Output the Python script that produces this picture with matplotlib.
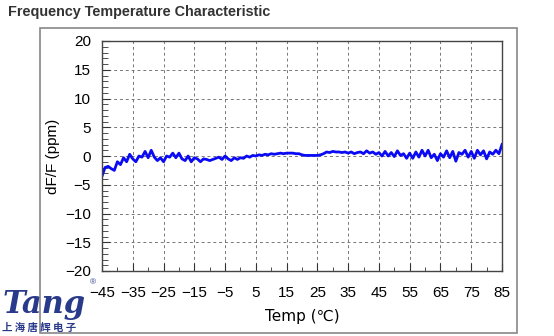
import matplotlib
matplotlib.use("Agg")
import matplotlib.pyplot as plt
from matplotlib.patches import Rectangle

temps = list(range(-45, 86))
dfdf = [-3.5, -2.0, -1.8, -2.2, -2.5, -1.0, -1.5, -0.3, -1.0, 0.3,
        -0.5, -1.0, 0.0, -0.2, 0.8, -0.3, 1.0, -0.2, -0.8, -0.3,
        -1.0, 0.0, -0.2, 0.5, -0.3, 0.5, -0.5, -0.8, 0.0, -1.0,
        -0.3, -0.5, -1.0, -0.5, -0.6, -0.8, -0.6, -0.4, -0.2, -0.6,
        0.0, -0.5, -0.8, -0.3, -0.6, -0.3, -0.4, 0.0, -0.2, 0.1,
        0.0, 0.2, 0.1, 0.3, 0.2, 0.4, 0.3, 0.4, 0.5, 0.4,
        0.5, 0.5, 0.5, 0.4, 0.4, 0.2, 0.1, 0.1, 0.1, 0.1,
        0.1, 0.2, 0.4, 0.7, 0.6, 0.8, 0.7, 0.7, 0.6, 0.7,
        0.5, 0.7, 0.4, 0.6, 0.7, 0.4, 0.9, 0.5, 0.7, 0.3,
        0.6, 0.0, 0.8, 0.0, 0.6, -0.1, 0.9, 0.1, 0.4, -0.4,
        0.5, -0.4, 0.7, -0.2, 1.0, 0.0, 1.0, -0.3, 0.3, -0.8,
        0.4, -0.2, 0.9, -0.3, 0.8, -0.9, 0.6, 0.3, 1.0, -0.2,
        0.8, -0.4, 1.0, 0.2, 0.9, -0.5, 0.7, 0.3, 1.0, 0.4,
        2.0]

x_ticks = list(range(-45, 86, 10))
y_ticks = list(range(-20, 21, 5))

W, H = 554, 336
plt.rcParams["font.family"] = ["Liberation Sans", "DejaVu Sans"]
fig = plt.figure(figsize=(W / 100, H / 100), dpi=100)
fig.patch.set_facecolor("white")

# outer frame
fig.patches.append(Rectangle((40 / W, 1 - 333 / H), (517 - 40) / W, (333 - 28) / H,
                             transform=fig.transFigure, fill=False,
                             edgecolor="#888888", linewidth=1.2))

ax = fig.add_axes([102 / W, 1 - 271 / H, 400 / W, 230 / H])
ax.plot(temps, dfdf, color="#0a0af5", linewidth=2.0)
ax.set_xlim(-45, 85)
ax.set_ylim(-20, 20)
ax.set_xticks(x_ticks)
ax.set_yticks(y_ticks)
ax.set_xticks(range(-40, 86, 10), minor=True)
ax.set_yticks(range(-20, 21, 1), minor=True)
ax.tick_params(axis="x", which="major", direction="in", labelsize=11,
               color="#333333", length=6, width=0.8, pad=11)
ax.tick_params(axis="y", which="major", direction="in", labelsize=11,
               color="#333333", length=6, width=0.8, pad=8)
ax.tick_params(axis="x", which="minor", direction="in", length=3, color="#333333")
ax.tick_params(axis="y", which="minor", direction="in", length=4, color="#333333")
ax.set_xticklabels([str(v).replace("-", "\u2212") for v in x_ticks])
ax.set_yticklabels([str(v).replace("-", "\u2212") for v in y_ticks])
for v in range(-35, 85, 10):
    ax.axvline(v, color="#777777", linestyle=(0, (3, 3)), linewidth=0.7, zorder=0)
for v in range(-15, 20, 5):
    ax.axhline(v, color="#777777", linestyle=(0, (3, 3)), linewidth=0.7, zorder=0)
for s in ax.spines.values():
    s.set_color("#444444")
    s.set_linewidth(1.0)
ax.set_ylabel("dF/F (ppm)", fontsize=11)
ax.yaxis.set_label_coords((60 - 102) / 400, 0.5)
ax.set_xlabel("Temp (\u2103)", fontsize=11, labelpad=6,
              family=["DejaVu Sans"])

fig.text(8 / W, 1 - 12 / H, "Frequency Temperature Characteristic", fontsize=10.4,
         fontweight="bold", color="#333333", va="center", ha="left")

# logo
fig.text(3 / W, 1 - 305 / H, "Tang", fontsize=22, fontweight="bold", style="italic",
         color="#2a3a8a", va="center", ha="left", family="DejaVu Serif")
fig.text(90 / W, 1 - 283 / H, "\u00ae", fontsize=6, color="#2a3a8a", va="center", ha="left")
fig.text(2 / W, 1 - 328 / H, "上 海 唐 辉 电 子", fontsize=7.5, fontweight="bold",
         color="#2a3a8a", va="center", ha="left",
         family=["Noto Sans CJK SC", "DejaVu Sans"])

fig.savefig("out.png", dpi=100, facecolor="white")
